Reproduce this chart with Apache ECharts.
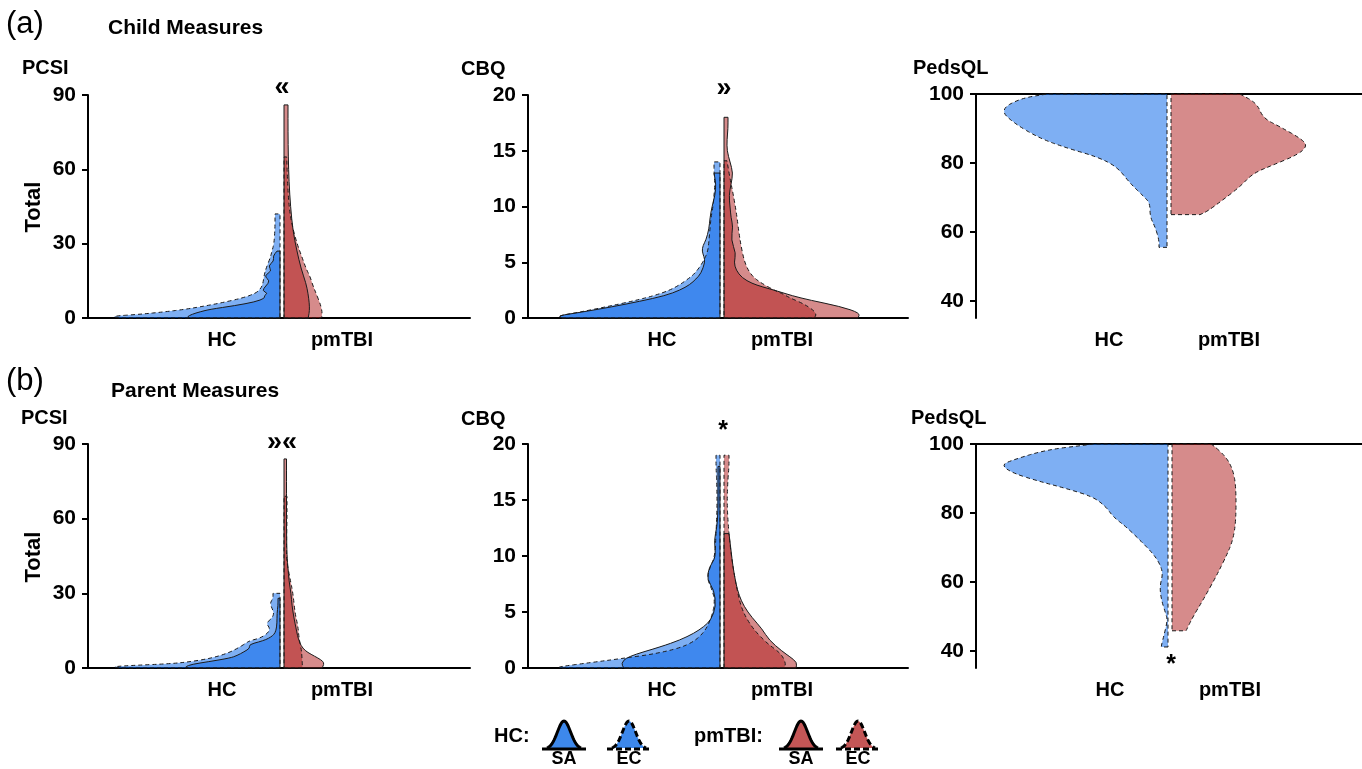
<!DOCTYPE html>
<html><head><meta charset="utf-8">
<script src="https://cdn.jsdelivr.net/npm/echarts@6/dist/echarts.min.js"></script>
<style>html,body{margin:0;padding:0;background:#fff}#c{width:1362px;height:769px}</style>
</head><body><div id="c"></div>
<script>
// ---------------- DATA ----------------
const groups = ['HC', 'pmTBI'];
const measures = ['PCSI', 'CBQ', 'PedsQL'];
const pcsiTicks = [0, 30, 60, 90];
const cbqTicks = [0, 5, 10, 15, 20];
const pedsTicks = [40, 60, 80, 100];
// each violin half: [score, density (scaled width)]
// Child PCSI
const cPcsiHcSa = [[0,90],[0.5,93],[1.5,88],[2.5,80],[3.5,70],[5,45],[6.5,25],[8,15],[9,16],[10,12],[11,18],[13,14],[15,10],[17,16],[19,8],[21,12],[23,6],[25,7],[27,3]];
const cPcsiHcEc = [[0,160],[0.7,169],[1.5,140],[2.5,115],[3.5,95],[4.5,80],[6,60],[8,38],[10,24],[12,19],[14,17],[17,16],[20,14],[24,10],[27,8],[30,6],[36,5],[42,5]];
const cPcsiTbiSa = [[0,24],[0.6,24.5],[3,25.5],[6,25.3],[10,24],[14,22],[20,17],[27.4,12.7],[35,9],[45,6.5],[55,5],[65,4.3],[75,4],[86,4]];
const cPcsiTbiEc = [[0,37],[0.6,38],[3,38],[6,36],[10,32],[13,29],[16.8,26],[20,22],[24.9,17.7],[30,13],[38,7.7],[45,5],[55,3.5],[65,2.7]];
// Child CBQ
const cCbqHcSa = [[0,158],[0.2,162],[0.5,140],[1,108],[1.5,80],[2,55],[2.5,40],[3,30],[3.5,24],[4,19],[5,15],[5.5,16],[6,18],[6.5,17],[7,14],[8,11],[9,10],[10,8],[11,5],[12,4],[13,6]];
const cCbqHcEc = [[0,158],[0.2,162],[0.5,142],[1,114],[1.5,88],[2,66],[2.5,50],[3,40],[3.5,32],[4,25],[5,17],[6,12],[7,11],[8,10],[9,9],[10,7],[11,6],[12,5],[13,6],[14,6]];
const cCbqTbiSa = [[0,134],[0.45,136],[1.04,116],[1.6,86],[2,68],[2.4,54],[2.8,38],[3.1,28],[3.6,18],[4.3,12],[5,10],[5.8,12],[7,7],[8.2,9],[9,7],[10,6],[11,5],[12,7],[13,9],[14,6],[15,3],[16,3],[17,4],[18,4]];
const cCbqTbiEc = [[0,90],[0.3,92.6],[0.74,89],[1.3,79],[1.8,66],[2.2,58],[2.5,50],[3.1,38],[3.6,30],[4.3,24],[5.2,20],[6.5,17],[7.6,15],[9.4,12.5],[11.2,9],[12.5,6],[14.1,3]];
// Child PedsQL (EC only)
const cPedsHcEc = [[55.5,8],[57.7,8],[61.5,12],[64.4,17],[68.3,17],[70.2,23],[74.1,37],[78.9,50],[81.8,70],[84.3,100],[87.1,127],[91.5,153],[95.4,167],[98.7,147],[100,120]];
const cPedsTbiEc = [[65,29],[65.9,36],[69.3,52],[73.1,69],[77,82],[79.4,102],[82.3,126],[84.7,136],[86.7,132],[90.5,109],[93,92],[97.3,86],[100,69]];
// Parent PCSI
const pPcsiHcSa = [[0,92],[0.5,95],[1.5,88],[2.5,72],[4,50],[5,43],[6.5,36],[8,30],[9.4,31],[10.5,21],[11.4,14],[12.5,9],[13.5,6],[15,4],[18,3],[22,3],[25,2],[28,2]];
const pPcsiHcEc = [[0,160],[0.5,168],[1,150],[1.7,110],[2.5,90],[4,68],[6,52],[8,42],[10,34],[11,30],[12,20],[14,12],[16,10],[18,14],[20,8],[22,6],[24,8],[26,10],[28,7],[30,7]];
const pPcsiTbiSa = [[0,38],[1.5,40],[2.7,39],[4,34],[5.5,27],[7,21],[9,17],[11,15],[13,13.5],[16,12],[20,10],[25,8],[30,7],[35,5],[40,4],[45,3],[55,2.5],[65,2.5],[75,2.5],[84,2.5]];
const pPcsiTbiEc = [[0,18],[0.7,18.4],[4,18],[7.4,17.4],[12,15],[16.7,14],[22,11],[30,9],[36,6],[43.5,2.4],[50,2.5],[60,3],[69,3]];
// Parent CBQ
const pCbqHcSa = [[0,96],[0.4,99],[1,93],[1.9,59],[2.5,40],[3.1,26],[3.7,16],[4.3,9],[5.5,4],[7,6],[7.9,13],[9,11],[9.9,4],[11.4,6],[12.6,3],[14,2],[16,2],[18,2]];
const pCbqHcEc = [[0,160],[0.1,162],[0.5,128],[0.84,99],[1.3,62],[2,32],[3.1,16],[4.6,8],[6,5],[7,8],[8,13],[9,10],[10,5],[12,4],[14,3],[16,3],[18,4],[19,4]];
const pCbqTbiSa = [[0,72],[0.5,73],[1,66],[1.5,58],[2.5,45],[3.5,38],[4.5,28],[5.5,20],[6.5,15],[7.5,12],[9,9],[10.5,7],[12,5]];
const pCbqTbiEc = [[0,60],[0.4,62],[1.3,57],[2.2,43],[3.4,30],[4.5,22],[5.5,17],[7,13],[9,9],[11,6],[13,4],[15,3],[17,4],[18,5],[19,5]];
// Parent PedsQL (EC only)
const pPedsHcEc = [[41.1,6.6],[41.6,6.6],[45,3.6],[48.9,0.5],[50.8,2.3],[54.7,6.6],[58.6,8.3],[62.4,5],[65.3,8.3],[68.2,15],[72.1,28],[76,42],[78.9,55],[81.8,62],[84.7,75],[87.1,102],[89.1,128],[91.5,155],[93.9,167],[95.4,155],[98.3,122],[99.7,82],[100,75]];
const pPedsTbiEc = [[45.8,14],[46,14.4],[49.9,21],[54.7,31],[61.5,44],[67.3,54],[72.1,61],[77.9,64],[87.6,64],[92.5,61],[96.3,54],[99.7,41],[100,38]];
// significance marks
const sigMarks = ['\u00AB', '\u00BB', '', '\u00BB\u00AB', '*', '*'];

// ---------------- STYLE / LAYOUT ----------------
const FONT = '"Liberation Sans", Arial, Helvetica, sans-serif';
const BLUE = 'rgba(3,100,232,0.515)';
const RED = 'rgba(175,30,30,0.515)';
const GAP = 2;
const HC = -1, TBI = 1;

function half(d, side, dash) { return { d: d, side: side, dash: dash, color: side < 0 ? BLUE : RED }; }

const panels = [
  { left: 88, top: 95, width: 382, height: 223, xmin: -194, xmax: 188, ymin: 0, ymax: 90, ticks: pcsiTicks, peds: false,
    shapes: [half(cPcsiHcEc, HC, true), half(cPcsiHcSa, HC, false), half(cPcsiTbiEc, TBI, true), half(cPcsiTbiSa, TBI, false)] },
  { left: 528, top: 95, width: 380, height: 223, xmin: -194, xmax: 186, ymin: 0, ymax: 20, ticks: cbqTicks, peds: false,
    shapes: [half(cCbqHcEc, HC, true), half(cCbqHcSa, HC, false), half(cCbqTbiEc, TBI, true), half(cCbqTbiSa, TBI, false)] },
  { left: 976, top: 94, width: 386, height: 224, xmin: -193, xmax: 193, ymin: 35, ymax: 100, ticks: pedsTicks, peds: true,
    shapes: [half(cPedsHcEc, HC, true), half(cPedsTbiEc, TBI, true)] },
  { left: 88, top: 444, width: 382, height: 224, xmin: -194, xmax: 188, ymin: 0, ymax: 90, ticks: pcsiTicks, peds: false,
    shapes: [half(pPcsiHcEc, HC, true), half(pPcsiHcSa, HC, false), half(pPcsiTbiEc, TBI, true), half(pPcsiTbiSa, TBI, false)] },
  { left: 528, top: 444, width: 380, height: 224, xmin: -194, xmax: 186, ymin: 0, ymax: 20, ticks: cbqTicks, peds: false,
    shapes: [half(pCbqHcEc, HC, true), half(pCbqHcSa, HC, false), half(pCbqTbiEc, TBI, true), half(pCbqTbiSa, TBI, false)] },
  { left: 976, top: 444, width: 386, height: 224, xmin: -194, xmax: 192, ymin: 35, ymax: 100, ticks: pedsTicks, peds: true,
    shapes: [half(pPedsHcEc, HC, true), half(pPedsTbiEc, TBI, true)] }
];

function makeRender(shapes) {
  const n = shapes.length;
  return function (params, api) {
    const idx = params.dataIndex;
    const s = shapes[idx % n];
    const outline = idx >= n;
    const pts = s.d.map(q => api.coord([s.side * (GAP + q[1]), q[0]]));
    const c0 = api.coord([s.side * GAP, s.d[0][0]]);
    const c1 = api.coord([s.side * GAP, s.d[s.d.length - 1][0]]);
    const mid = (a, b) => [(a[0] + b[0]) / 2, (a[1] + b[1]) / 2];
    let p = 'M' + c0[0] + ' ' + c0[1] + 'L' + pts[0][0] + ' ' + pts[0][1];
    if (pts.length > 2) {
      let mm = mid(pts[0], pts[1]);
      p += 'L' + mm[0] + ' ' + mm[1];
      for (let i = 1; i < pts.length - 1; i++) {
        mm = mid(pts[i], pts[i + 1]);
        p += 'Q' + pts[i][0] + ' ' + pts[i][1] + ' ' + mm[0] + ' ' + mm[1];
      }
    }
    const last = pts[pts.length - 1];
    p += 'L' + last[0] + ' ' + last[1] + 'L' + c1[0] + ' ' + c1[1] + 'Z';
    let style;
    if (outline) {
      style = { fill: 'none', stroke: '#1a1a1a', lineWidth: 1 };
      if (s.dash) style.lineDash = [4, 3];
    } else {
      style = { fill: s.color, stroke: 'none' };
    }
    return { type: 'path', shape: { pathData: p }, style: style };
  };
}

const grid = [], xAxis = [], yAxis = [], series = [];
const tickStyle = { color: '#000', fontFamily: FONT, fontWeight: 'bold', fontSize: 21 };
const catStyle = { color: '#000', fontFamily: FONT, fontWeight: 'bold', fontSize: 20 };
panels.forEach((pn, i) => {
  grid.push({ left: pn.left, top: pn.top, width: pn.width, height: pn.height });
  const catLabel = Object.assign({ show: true, margin: 12, customValues: [-60, 60],
    formatter: v => (v < 0 ? groups[0] : groups[1]) }, catStyle);
  const mainX = xAxis.length;
  xAxis.push({
    gridIndex: i, type: 'value', min: pn.xmin, max: pn.xmax,
    position: pn.peds ? 'top' : 'bottom',
    axisLine: { show: true, onZero: false, lineStyle: { color: '#000', width: 2 } },
    axisTick: { show: false }, splitLine: { show: false },
    axisLabel: pn.peds ? { show: false } : catLabel
  });
  if (pn.peds) {
    xAxis.push({
      gridIndex: i, type: 'value', min: pn.xmin, max: pn.xmax, position: 'bottom',
      axisLine: { show: false, onZero: false }, axisTick: { show: false }, splitLine: { show: false },
      axisLabel: catLabel
    });
  }
  yAxis.push({
    gridIndex: i, type: 'value', min: pn.ymin, max: pn.ymax,
    axisLine: { show: true, onZero: false, lineStyle: { color: '#000', width: 2 } },
    axisTick: { show: true, length: 6, customValues: pn.ticks, lineStyle: { color: '#000', width: 2 } },
    splitLine: { show: false },
    axisLabel: Object.assign({ margin: 12, customValues: pn.ticks }, tickStyle)
  });
  const n = pn.shapes.length;
  const data = [];
  for (let k = 0; k < 2 * n; k++) data.push([0, pn.ymax]);
  series.push({
    type: 'custom', xAxisIndex: mainX, yAxisIndex: i, coordinateSystem: 'cartesian2d',
    renderItem: makeRender(pn.shapes), data: data, silent: true, animation: false, clip: false
  });
});

// text elements
function txt(text, x, y, size, weight, align, extra) {
  return Object.assign({ type: 'text', x: x, y: y, silent: true,
    style: { text: text, font: (weight || 'bold') + ' ' + size + 'px ' + FONT, fill: '#000',
      align: align || 'left', verticalAlign: 'middle' } }, extra || {});
}
const graphic = [
  txt('(a)', 6, 24, 31, 'normal'),
  txt('Child Measures', 108, 28, 21),
  txt('(b)', 6, 381, 31, 'normal'),
  txt('Parent Measures', 111, 391, 21),
  txt(measures[0], 22, 68, 20), txt(measures[1], 461, 69, 20), txt(measures[2], 913, 68, 20),
  txt(measures[0], 21, 418, 20), txt(measures[1], 461, 419, 20), txt(measures[2], 911, 418, 20),
  txt('Total', 34, 207, 22, 'bold', 'center', { rotation: Math.PI / 2 }),
  txt('Total', 34, 557, 22, 'bold', 'center', { rotation: Math.PI / 2 }),
  txt(sigMarks[0], 282, 88, 27, 'bold', 'center'),
  txt(sigMarks[1], 724, 89, 27, 'bold', 'center'),
  txt(sigMarks[3], 282, 443, 27, 'bold', 'center'),
  txt(sigMarks[4], 723, 431, 25, 'bold', 'center'),
  txt(sigMarks[5], 1171, 665, 25, 'bold', 'center')
];

// legend icons
function bell(cx, base, h) {
  const pts = [];
  for (let dx = -17; dx <= 17; dx += 1) pts.push([cx + dx, base - h * Math.exp(-0.5 * Math.pow(dx / 6.6, 2))]);
  return pts;
}
function legendIcon(cx, color, dashed) {
  const base = 749, pts = bell(cx, base, 28);
  const dash = dashed ? { lineDash: [6, 3] } : {};
  return [
    { type: 'polygon', silent: true, shape: { points: pts }, style: { fill: color } },
    { type: 'polyline', silent: true, shape: { points: pts }, style: Object.assign({ stroke: '#000', lineWidth: 3, fill: null }, dash) },
    { type: 'line', silent: true, shape: { x1: cx - 22, y1: base, x2: cx + 22, y2: base }, style: Object.assign({ stroke: '#000', lineWidth: 3 }, dash) }
  ];
}
const LEG_BLUE = '#3d88eb', LEG_RED = '#c45656';
graphic.push(txt(groups[0] + ':', 494, 736, 20));
graphic.push(txt(groups[1] + ':', 694, 736, 20));
[[564, LEG_BLUE, false, 'SA'], [629, LEG_BLUE, true, 'EC'], [801, LEG_RED, false, 'SA'], [858, LEG_RED, true, 'EC']].forEach(a => {
  legendIcon(a[0], a[1], a[2]).forEach(e => graphic.push(e));
  const t = txt(a[3], a[0], 750, 18, 'bold', 'center');
  t.style.verticalAlign = 'top';
  graphic.push(t);
});

const chart = echarts.init(document.getElementById('c'), null, { renderer: 'canvas' });
chart.setOption({
  animation: false,
  textStyle: { fontFamily: FONT },
  grid: grid, xAxis: xAxis, yAxis: yAxis, series: series, graphic: graphic
});
</script></body></html>
